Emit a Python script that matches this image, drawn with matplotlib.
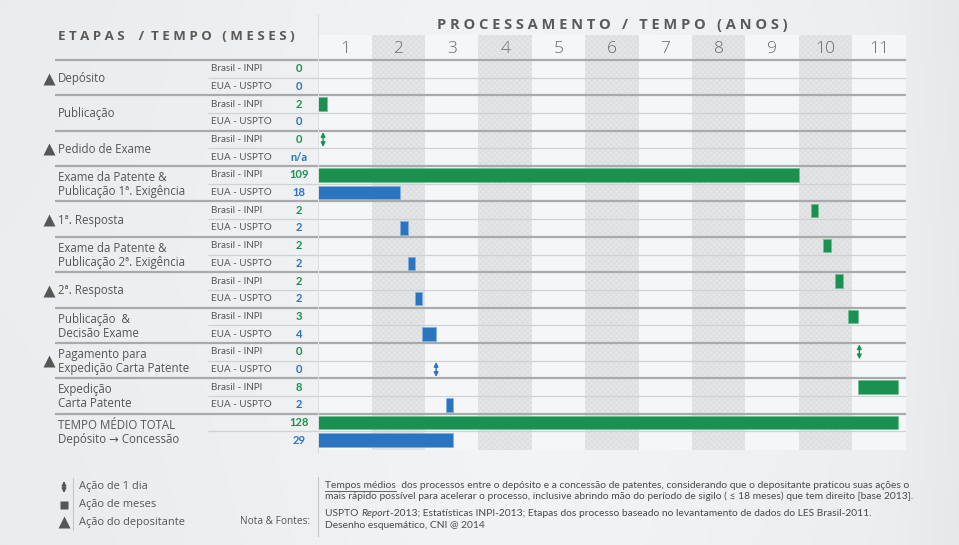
import numpy as np
import matplotlib.pyplot as plt
from matplotlib.lines import Line2D

plt.rcParams["font.family"] = ["Open Sans", "DejaVu Sans"]
plt.rcParams["hatch.linewidth"] = 0.4

SEG = ["Open Sans", "DejaVu Sans"]
CAL = ["Lato", "DejaVu Sans"]

# ---- data (months) ----
stages = ["Depósito", "Publicação", "Pedido de Exame",
          "Exame da Patente &\nPublicação 1ª. Exigência", "1ª. Resposta",
          "Exame da Patente &\nPublicação 2ª. Exigência", "2ª. Resposta",
          "Publicação  &\nDecisão Exame", "Pagamento para\nExpedição Carta Patente",
          "Expedição\nCarta Patente"]
depositor_action = [True, False, True, False, True, False, True, False, True, False]
inpi_months = ["0", "2", "0", "109", "2", "2", "2", "3", "0", "8"]
uspto_months = ["0", "0", "n/a", "18", "2", "2", "2", "4", "0", "2"]
inpi_total = "128"
uspto_total = "29"

# gantt pieces (stage index, start, end)
inpi_bar_stage = [1, 3, 4, 5, 6, 7, 9]
inpi_bar_start = [0, 0, 110.7, 113.4, 116.1, 119.0, 121.2]
inpi_bar_end = [2.0, 108.0, 112.4, 115.2, 117.9, 121.2, 130.4]
inpi_day_stage = [2, 8]
inpi_day_at = [1.1, 121.6]
inpi_total_end = 130.4

uspto_bar_stage = [3, 4, 5, 6, 7, 9]
uspto_bar_start = [0, 18.4, 20.1, 21.8, 23.4, 28.7]
uspto_bar_end = [18.4, 20.1, 21.8, 23.4, 26.5, 30.3]
uspto_day_stage = [8]
uspto_day_at = [26.5]
uspto_total_end = 30.3

years = list(range(1, 12))

GREEN = "#1a9150"
BLUE = "#2b74bf"
GRAY = "#565656"

W, H = 959, 545
fig = plt.figure(figsize=(W / 100, H / 100), dpi=100)


def fx(x):
    return x / W


def fy(y):
    return 1 - y / H


# background gradient
bg = fig.add_axes([0, 0, 1, 1], zorder=-10)
xs = np.linspace(0, 1, 200)
ys = np.linspace(0, 1, 120)
gx = 0.935 + 0.03 * np.exp(-((xs - 0.55) / 0.35) ** 2) - 0.02 * np.clip(xs - 0.93, 0, 1) / 0.07
gy = 1 - 0.01 * np.abs(ys - 0.5)
img = np.clip(np.outer(gy, gx), 0, 1)
rgb = np.dstack([img * 0.985, img * 0.992, img])
bg.imshow(rgb, aspect="auto", extent=[0, 1, 0, 1], interpolation="bilinear")
bg.set_xlim(0, 1)
bg.set_ylim(0, 1)
bg.axis("off")

# axes geometry (pixels)
X0, X1 = 318.2, 905.6
TOP, BOT = 35, 450
row_px = (449 - 60) / 22
ytop = -(60 - TOP) / row_px
ybot = 22 + (BOT - 449) / row_px

ax = fig.add_axes([fx(X0), fy(BOT), (X1 - X0) / W, (BOT - TOP) / H])
ax.set_xlim(0, 132)
ax.set_ylim(ybot, ytop)
ax.set_facecolor("#f4f6f8")
for s in ax.spines.values():
    s.set_visible(False)
ax.set_xticks([])
ax.set_yticks([])

axt = fig.add_axes([fx(55), fy(BOT), (X0 - 55) / W, (BOT - TOP) / H])
axt.set_xlim(55, X0)
axt.set_ylim(ybot, ytop)
axt.axis("off")

# shaded year columns
for yr in years:
    if yr % 2 == 0:
        ax.axvspan(12 * (yr - 1), 12 * yr, facecolor="#e4e5e7", edgecolor="#d9dadc",
                   hatch="xxxxxx", lw=0, zorder=0)
    ax.text(12 * yr - 6, -0.6, str(yr), ha="center", va="center", fontsize=12.5,
            color="#6a6a6a", family=SEG, fontweight="light")

# row lines
for r in range(0, 22):
    thick = r % 2 == 0
    c = "#a8aaac" if thick else "#cfd2d5"
    lw = 1.6 if thick else 0.9
    ax.axhline(r, color=c, lw=lw, zorder=1)
    axt.hlines(r, 55 if thick else 208, X0, color=c, lw=lw)

# gantt bars
bh = 0.76
for st, a, b in zip(inpi_bar_stage, inpi_bar_start, inpi_bar_end):
    ax.barh(2 * st + 0.5, b - a, left=a, height=bh, color=GREEN, edgecolor="#6cc296",
            lw=0.5, zorder=3)
for st, a, b in zip(uspto_bar_stage, uspto_bar_start, uspto_bar_end):
    ax.barh(2 * st + 1.5, b - a, left=a, height=bh, color=BLUE, edgecolor="#7fb0e0",
            lw=0.5, zorder=3)
ax.barh(20.5, inpi_total_end, height=bh, color=GREEN, edgecolor="#6cc296", lw=0.5, zorder=3)
ax.barh(21.5, uspto_total_end, height=bh, color=BLUE, edgecolor="#7fb0e0", lw=0.5, zorder=3)


def day_arrow(axis, x, y, color, coords="data", half=0.42):
    axis.annotate("", xy=(x, y - half), xytext=(x, y + half), xycoords=coords,
                  textcoords=coords, annotation_clip=False,
                  arrowprops=dict(arrowstyle="<|-|>", color=color, lw=1.0,
                                  mutation_scale=6.5, shrinkA=0, shrinkB=0), zorder=4)


for st, d in zip(inpi_day_stage, inpi_day_at):
    day_arrow(ax, d, 2 * st + 0.5, GREEN)
for st, d in zip(uspto_day_stage, uspto_day_at):
    day_arrow(ax, d, 2 * st + 1.5, BLUE)

# left table
SF = 8.3
for i, name in enumerate(stages):
    yc = 2 * i + 1
    axt.text(58, yc + 0.05, name, ha="left", va="center", fontsize=SF, color=GRAY,
             family=SEG, linespacing=1.12)
    if depositor_action[i]:
        axt.plot(49, yc + 0.05, marker="^", ms=8, color=GRAY, mec="none", clip_on=False)
    axt.text(211, 2 * i + 0.5, "Brasil - INPI", ha="left", va="center", fontsize=7.1,
             color=GRAY, family=CAL)
    axt.text(211, 2 * i + 1.5, "EUA - USPTO", ha="left", va="center", fontsize=7.1,
             color=GRAY, family=CAL)
    axt.text(299, 2 * i + 0.5, inpi_months[i], ha="center", va="center", fontsize=8,
             color=GREEN, family=CAL, fontweight="bold")
    axt.text(299, 2 * i + 1.5, uspto_months[i], ha="center", va="center", fontsize=8,
             color=BLUE, family=CAL, fontweight="bold")

axt.text(58, 21.05, "TEMPO MÉDIO TOTAL\nDepósito → Concessão", ha="left", va="center",
         fontsize=SF, color=GRAY, family=SEG, linespacing=1.12)
axt.text(299, 20.5, inpi_total, ha="center", va="center", fontsize=8, color=GREEN,
         family=CAL, fontweight="bold")
axt.text(299, 21.5, uspto_total, ha="center", va="center", fontsize=8, color=BLUE,
         family=CAL, fontweight="bold")

# titles
fig.text(fx(58), fy(37), "E T A P A S    /  T E M P O   ( M E S E S )", ha="left",
         va="center", fontsize=9.5, fontweight="bold", color="#5a5a5a", family=SEG)
fig.text(fx(612), fy(25), "P R O C E S S A M E N T O   /   T E M P O   ( A N O S )",
         ha="center", va="center", fontsize=10.5, fontweight="bold", color="#5a5a5a",
         family=SEG)

# vertical divider
fig.add_artist(Line2D([fx(318), fx(318)], [fy(14), fy(452)], color="#dcdee0", lw=0.7))

# legend
LF = 7.9
fig.add_artist(Line2D([fx(73), fx(73)], [fy(478), fy(530)], color="#c5c7c9", lw=0.8))
day_arrow(bg, 64, H - 487, GRAY, coords="figure pixels", half=6)
fig.add_artist(Line2D([fx(64)], [fy(505)], marker="s", ms=6, color=GRAY, mec="none"))
fig.add_artist(Line2D([fx(64)], [fy(522)], marker="^", ms=8, color=GRAY, mec="none"))
for yy, t in zip([487, 505, 522], ["Ação de 1 dia", "Ação de meses", "Ação do depositante"]):
    fig.text(fx(79), fy(yy), t, ha="left", va="center", fontsize=LF, color=GRAY, family=SEG)

fig.text(fx(310), fy(522), "Nota & Fontes:", ha="right", va="center", fontsize=7.3,
         color=GRAY, family=SEG)
fig.add_artist(Line2D([fx(318), fx(318)], [fy(477), fy(536)], color="#c5c7c9", lw=0.8))

NF = 7.4
NC = "#4a4a4a"
fig.canvas.draw()
rend = fig.canvas.get_renderer()


def seq_text(x, y, parts):
    for txt, style, under in parts:
        t = fig.text(fx(x), fy(y), txt, ha="left", va="center", fontsize=NF, color=NC,
                     family=CAL, style=style)
        bb = t.get_window_extent(rend)
        if under:
            fig.add_artist(Line2D([fx(x), fx(x + bb.width)], [fy(y + 5.5), fy(y + 5.5)],
                                  color=NC, lw=0.6))
        x += bb.width


seq_text(325, 485, [("Tempos médios", "normal", True),
                    ("  dos processos entre o depósito e a concessão de patentes, considerando "
                     "que o depositante praticou suas ações o", "normal", False)])
seq_text(325, 496, [("mais rápido possível para acelerar o processo, inclusive abrindo mão do "
                     "período de sigilo ( ≤ 18 meses) que tem direito [base 2013].", "normal", False)])
seq_text(325, 514, [("USPTO ", "normal", False), ("Report", "italic", False),
                    ("-2013; Estatísticas INPI-2013; Etapas dos processo baseado no levantamento "
                     "de dados do LES Brasil-2011.", "normal", False)])
seq_text(325, 525, [("Desenho esquemático, CNI @ 2014", "normal", False)])

fig.savefig("out.png", dpi=100)
